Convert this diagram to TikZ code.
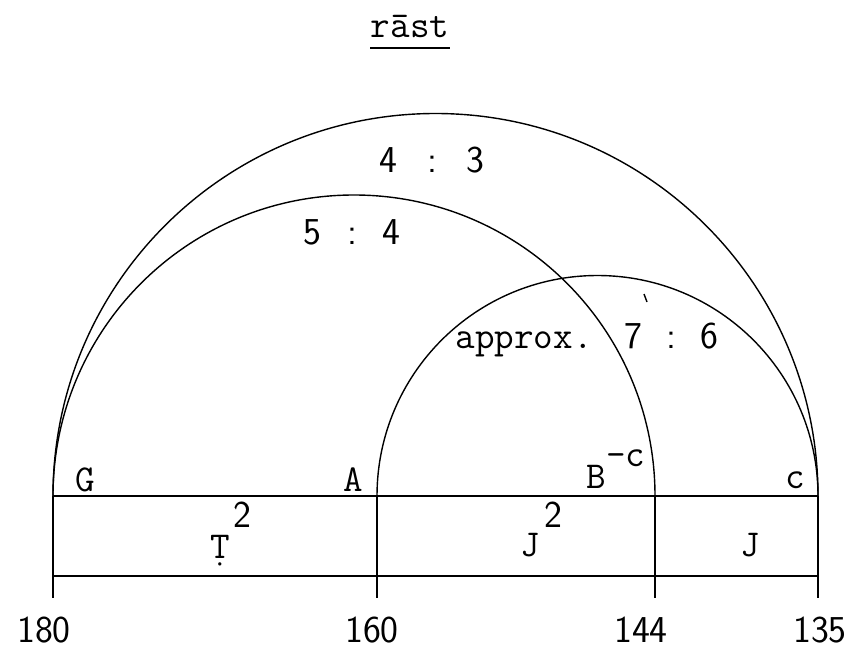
\documentclass[tikz,border=0pt]{standalone}
\usepackage{amsmath}
\usepackage{tikz}

\begin{document}
\begin{tikzpicture}[x=0.5pt,y=0.5pt,line width=0.7pt,
  tw/.style={inner sep=0pt,font=\fontsize{19}{21}\selectfont\ttfamily},
  num/.style={inner sep=0pt,font=\fontsize{19}{21}\selectfont\sffamily}]
\useasboundingbox (0,0) rectangle (856,-652);
\node[tw,anchor=base] (title) at (410,-38) {r\=ast};
\draw ([yshift=-5pt]title.base west) -- ([yshift=-5pt]title.base east);
\coordinate (G) at (53,-496);
\coordinate (A) at (377,-496);
\coordinate (B) at (655,-496);
\coordinate (C) at (818,-496);
\coordinate (Gm) at (53,-576);
\coordinate (Cm) at (818,-576);
\draw (G) -- (C);
\draw (Gm) -- (Cm);
\foreach \p in {G,A,B,C} \draw (\p) -- ++(0,-102);
\draw (C) arc[start angle=0,end angle=180,radius=382.5];
\draw (B) arc[start angle=0,end angle=180,radius=301];
\draw (C) arc[start angle=0,end angle=180,radius=220.5];
\node[num] (r43) at (432,-160) {4\hspace{15pt}:\hspace{15pt}3};
\node[num] (r54) at (352,-232) {5\hspace{13pt}:\hspace{13pt}4};
\node[tw,anchor=base west] (r76) at (455,-348) {approx.\hspace{16pt}{\sffamily 7\hspace{12pt}:\hspace{12pt}6}};
\draw (644,-294) -- (647,-302);
\node[tw,anchor=base] (nG) at (85,-491) {G};
\node[tw,anchor=base] (nA) at (353,-491) {A};
\node[tw,anchor=base west] (nB) at (586,-488) {B\raisebox{11pt}{-c}};
\node[tw,anchor=base] (nc) at (795,-488) {c};
\node[num] (two1) at (242,-515) {2};
\node[tw,anchor=base] (T) at (220,-558) {\d{T}};
\node[num] (two2) at (553,-515) {2};
\node[tw,anchor=base] (J1) at (530,-556) {J};
\node[tw,anchor=base] (J2) at (750,-556) {J};
\node[num,anchor=base] (n180) at (44,-642) {180};
\node[num,anchor=base] (n160) at (372,-642) {160};
\node[num,anchor=base] (n144) at (641,-642) {144};
\node[num,anchor=base] (n135) at (820,-642) {135};
\end{tikzpicture}
\end{document}
